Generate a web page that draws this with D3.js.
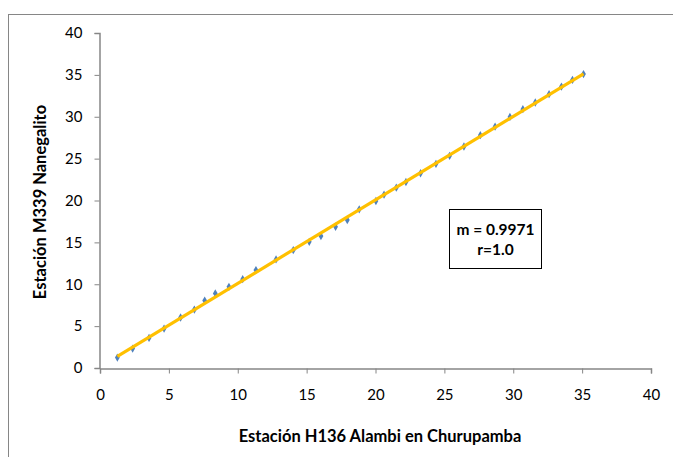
<!DOCTYPE html>
<html>
<head>
<meta charset="utf-8">
<script src="https://cdn.jsdelivr.net/npm/d3@7"></script>
<style>
  html, body { margin: 0; padding: 0; background: #fff; }
  svg { display: block; font-family: "Lato", "Open Sans", sans-serif; }
</style>
</head>
<body>
<svg id="chart" width="673" height="457"></svg>
<script>
// Paired daily values observed at both stations
const stationH136 = [1.26, 2.37, 3.56, 4.65, 5.85, 6.85, 7.6, 8.37, 9.36, 10.36, 11.32, 12.78,
  14.03, 15.19, 16.04, 17.1, 17.95, 18.82, 20.03, 20.62, 21.51, 22.21, 23.27, 24.39, 25.38,
  26.42, 27.61, 28.68, 29.76, 30.7, 31.6, 32.6, 33.5, 34.3, 35.1];
const stationM339 = [1.24, 2.32, 3.59, 4.71, 6.03, 6.98, 8.05, 8.9, 9.69, 10.61, 11.69, 12.97,
  14.08, 15.07, 15.75, 16.87, 17.67, 18.95, 19.94, 20.7, 21.53, 22.21, 23.25, 24.38, 25.33,
  26.45, 27.8, 28.82, 29.98, 30.9, 31.7, 32.7, 33.6, 34.4, 35.1];
const xTicks = [0, 5, 10, 15, 20, 25, 30, 35, 40];
const yTicks = [0, 5, 10, 15, 20, 25, 30, 35, 40];
const slope = 0.9971;
const corr = "1.0";

const svg = d3.select("#chart");
const axisColor = "#868686";

// Outer chart frame
svg.append("rect")
  .attr("x", 8.5).attr("y", 14.5)
  .attr("width", 700).attr("height", 500)
  .attr("fill", "none").attr("stroke", axisColor).attr("stroke-width", 1);

const x = d3.scaleLinear().domain([0, 40]).range([100, 651]);
const y = d3.scaleLinear().domain([0, 40]).range([368, 33]);

// X axis
const gx = svg.append("g").attr("transform", `translate(0,${y(0) + 0.5})`)
  .call(d3.axisBottom(x).tickValues(xTicks).tickSize(5).tickPadding(16).tickFormat(d3.format("d")));
// Y axis
const gy = svg.append("g").attr("transform", `translate(${x(0) - 0.5},0)`)
  .call(d3.axisLeft(y).tickValues(yTicks).tickSize(5).tickPadding(12).tickFormat(d3.format("d")));

[gx, gy].forEach(g => {
  g.select(".domain").attr("stroke", axisColor).attr("stroke-width", 1.5);
  g.selectAll(".tick line").attr("stroke", axisColor).attr("stroke-width", 1);
  g.selectAll(".tick text").attr("fill", "#000").style("font-size", "15px")
    .style("font-family", "Lato, 'Open Sans', sans-serif");
});

// Scatter points (diamonds)
const pts = stationH136.map((v, i) => [v, stationM339[i]]);
svg.append("g").selectAll("path")
  .data(pts)
  .join("path")
  .attr("d", d3.symbol(d3.symbolDiamond, 20))
  .attr("transform", d => `translate(${x(d[0])},${y(d[1])})`)
  .attr("fill", "#4F81BD");

// Linear trendline with the stated slope, passing through the centroid
const mx = d3.mean(stationH136), my = d3.mean(stationM339);
const intercept = my - slope * mx;
const x0 = d3.min(stationH136), x1 = d3.max(stationH136);
svg.append("line")
  .attr("x1", x(x0)).attr("y1", y(slope * x0 + intercept))
  .attr("x2", x(x1)).attr("y2", y(slope * x1 + intercept))
  .attr("stroke", "#FFC000").attr("stroke-width", 3.2);

// Axis titles
svg.append("text")
  .attr("x", 380).attr("y", 442)
  .attr("text-anchor", "middle")
  .style("font-weight", "bold").style("font-size", "16.5px")
  .text("Estación H136 Alambi en Churupamba");

svg.append("text")
  .attr("transform", "translate(46,202) rotate(-90)")
  .attr("text-anchor", "middle")
  .style("font-weight", "bold").style("font-size", "16.5px")
  .text("Estación M339 Nanegalito");

// Annotation box
svg.append("rect")
  .attr("x", 449.5).attr("y", 209.5).attr("width", 92).attr("height", 59)
  .attr("fill", "#fff").attr("stroke", "#000").attr("stroke-width", 1);
svg.append("text")
  .attr("x", 495.5).attr("y", 235)
  .attr("text-anchor", "middle")
  .style("font-weight", "bold").style("font-size", "15.5px")
  .text(`m = ${slope}`);
svg.append("text")
  .attr("x", 495.5).attr("y", 255)
  .attr("text-anchor", "middle")
  .style("font-weight", "bold").style("font-size", "15.5px")
  .text(`r=${corr}`);
</script>
</body>
</html>
